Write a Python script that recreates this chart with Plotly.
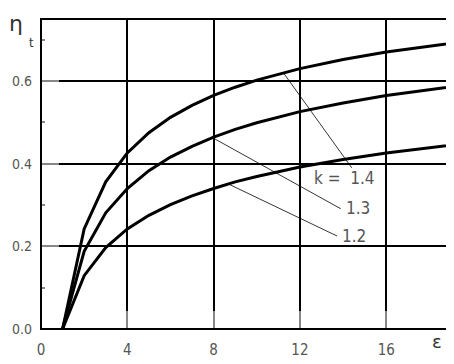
import plotly.graph_objects as go

# Compression ratio values (epsilon)
eps = [1, 2, 3, 4, 5, 6, 7, 8, 9, 10, 12, 14, 16, 18, 20]

# Thermal efficiency, per adiabatic exponent k
eta_k14 = [0.0, 0.242, 0.356, 0.426, 0.475, 0.512, 0.541, 0.565, 0.585, 0.602, 0.630, 0.652, 0.670, 0.685, 0.698]
eta_k13 = [0.0, 0.188, 0.281, 0.340, 0.383, 0.416, 0.442, 0.464, 0.483, 0.499, 0.526, 0.547, 0.565, 0.580, 0.593]
eta_k12 = [0.0, 0.129, 0.197, 0.242, 0.275, 0.301, 0.322, 0.340, 0.356, 0.369, 0.392, 0.410, 0.426, 0.439, 0.451]

x_ticks = [0, 4, 8, 12, 16]
x_labels = ["0", "4", "8", "12", "16"]
y_ticks = [0.0, 0.2, 0.4, 0.6]
y_labels = ["0.0", "0.2", "0.4", "0.6"]

# Leader lines: curve point, label point, label text, label anchor position
leader_start = [(11.23, 0.620), (7.98, 0.462), (8.76, 0.349)]
leader_end = [(14.40, 0.390), (13.89, 0.291), (13.72, 0.225)]
label_text = ["k =  1.4", "1.3", "1.2"]
label_pos = [(12.55, 0.366), (14.05, 0.293), (13.85, 0.225)]

FONT = "Liberation Sans Narrow, DejaVu Sans Condensed, Arial Narrow, sans-serif"
GRAY = "#555555"

# page has an 8px body margin; size the figure to fit the 454x364 window
OFF = 8
W, H = 454 - OFF, 364 - OFF
L, R, T, B = 41 - OFF, 3, 19 - OFF, 35
pw, ph = W - L - R, H - T - B
def px(x): return (x - OFF - L) / pw
def py(y): return (H - B - (y - OFF)) / ph

fig = go.Figure()
for ys in (eta_k14, eta_k13, eta_k12):
    fig.add_trace(go.Scatter(x=eps, y=ys, mode="lines",
                             line=dict(color="black", width=3),
                             showlegend=False, hoverinfo="skip"))

for p0, p1 in zip(leader_start, leader_end):
    fig.add_trace(go.Scatter(x=[p0[0], p1[0]], y=[p0[1], p1[1]], mode="lines",
                             line=dict(color="black", width=0.8),
                             showlegend=False, hoverinfo="skip"))

for txt, lp in zip(label_text, label_pos):
    fig.add_annotation(x=lp[0], y=lp[1], xref="x", yref="y", text=txt,
                       showarrow=False, xanchor="left", yanchor="middle",
                       font=dict(family=FONT, size=17, color=GRAY))

fig.add_annotation(x=px(16), y=py(23), xref="paper", yref="paper", text="η", showarrow=False,
                   font=dict(family="DejaVu Sans", size=22, color="#333"),
                   xanchor="center", yanchor="middle")
fig.add_annotation(x=px(31), y=py(42), xref="paper", yref="paper", text="t", showarrow=False,
                   font=dict(family=FONT, size=13, color="#333"),
                   xanchor="center", yanchor="middle")
fig.add_annotation(x=px(437), y=py(341), xref="paper", yref="paper", text="ε", showarrow=False,
                   font=dict(family="DejaVu Sans", size=18, color="#333"),
                   xanchor="center", yanchor="middle")

# plot frame
fig.add_shape(type="rect", xref="paper", yref="paper", x0=0, y0=0, x1=1, y1=1,
              line=dict(color="black", width=2), layer="above")

fig.update_layout(
    template="none",
    width=W, height=H,
    margin=dict(l=L, r=R, t=T, b=B, autoexpand=False),
    paper_bgcolor="white", plot_bgcolor="white",
    font=dict(family=FONT, size=15, color=GRAY),
)
fig.update_xaxes(range=[0, 19], tickvals=x_ticks, ticktext=x_labels,
                 showgrid=True, gridcolor="black", gridwidth=1.5,
                 showline=False, automargin=False,
                 ticks="inside", ticklen=18, tickcolor="#888", tickwidth=2,
                 zeroline=False, fixedrange=True, ticklabelstandoff=10,
                 tickfont=dict(family=FONT, size=15, color=GRAY))
fig.update_yaxes(range=[0, 0.75], tickvals=y_ticks, ticktext=y_labels,
                 showgrid=True, gridcolor="black", gridwidth=1.5,
                 showline=False, automargin=False,
                 ticks="inside", ticklen=18, tickcolor="#888", tickwidth=2,
                 minor=dict(tickvals=[0.1, 0.3, 0.5, 0.7], ticks="inside", ticklen=4,
                            tickcolor="#888", tickwidth=1.5, showgrid=False),
                 zeroline=False, fixedrange=True, ticklabelstandoff=8,
                 tickfont=dict(family=FONT, size=14, color=GRAY))

fig.write_html("out.html")
